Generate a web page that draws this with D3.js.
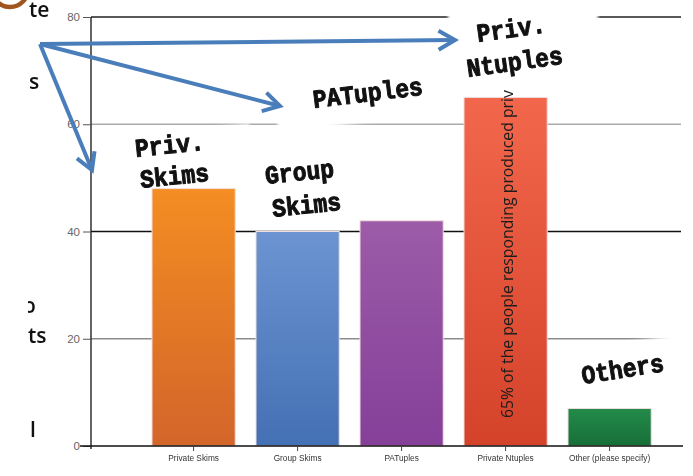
<!DOCTYPE html>
<html>
<head>
<meta charset="utf-8">
<script src="https://cdn.jsdelivr.net/npm/d3@7"></script>
<style>
  html, body { margin: 0; padding: 0; background: #fff; }
  svg { display: block; }
</style>
</head>
<body>
<svg id="chart" width="693" height="476"></svg>
<script>
// Survey: which data formats did respondents produce (percent of respondents)
const categories = ["Private Skims", "Group Skims", "PATuples", "Private Ntuples", "Other (please specify)"];
const values = [48, 40, 42, 65, 7];
const yTicks = [0, 20, 40, 60, 80];
const barTopColors = ["#f48d22", "#6b94d1", "#9c5ca8", "#f2674c", "#238b4a"];
const barBottomColors = ["#d3652a", "#4470b4", "#853f99", "#d4422a", "#176e38"];
const gridColors = { 0: "#000", 20: "#8c8c8c", 40: "#111", 60: "#aaa", 80: "#222" };

// hand-lettered callouts over the chart
const callouts = [
  { lines: ["Priv.", "Skims"], x: [136, 141], y: [157, 188], rot: -6 },
  { lines: ["Group", "Skims"], x: [266, 273], y: [184, 217], rot: -6 },
  { lines: ["PATuples"], x: [314], y: [108], rot: -7 },
  { lines: ["Priv.", "Ntuples"], x: [478, 468], y: [42, 77], rot: -8 },
  { lines: ["Others"], x: [583], y: [384], rot: -9 }
];
const barNote = "65% of the people responding produced priv";
const sideWords = [
  { t: "te", x: 29, y: 17, clip: false },
  { t: "s", x: 29, y: 89, clip: false },
  { t: "o", x: 23, y: 313, clip: true },
  { t: "ts", x: 28, y: 343, clip: false },
  { t: "l", x: 30, y: 437, clip: false }
];

const svg = d3.select("#chart");
const defs = svg.append("defs");

const y = d3.scaleLinear().domain([0, 80]).range([446, 17]);
const x = d3.scaleBand().domain(categories).range([141.6, 661.6])
  .paddingInner(0.2).paddingOuter(0.1);

const plotLeft = 91, plotRight = 681;

// gridlines
svg.append("g").selectAll("line").data(yTicks.filter(d => d > 0)).join("line")
  .attr("x1", plotLeft).attr("x2", plotRight)
  .attr("y1", d => y(d)).attr("y2", d => y(d))
  .attr("stroke", d => gridColors[d]).attr("stroke-width", 1.3);

// soft white backing panels behind the callouts
defs.append("filter").attr("id", "soft")
  .attr("x", "-10%").attr("y", "-10%").attr("width", "120%").attr("height", "120%")
  .append("feGaussianBlur").attr("stdDeviation", 1.5);
const panels = [
  { cx: 189, cy: 163, w: 128, h: 66, rot: -6 },
  { cx: 350, cy: 99, w: 150, h: 50, rot: -7 },
  { cx: 523, cy: 40, w: 150, h: 96, rot: 0 },
  { cx: 625, cy: 370.5, w: 130, h: 56, rot: -8 }
];
svg.append("g").attr("filter", "url(#soft)").selectAll("rect").data(panels).join("rect")
  .attr("x", d => -d.w / 2).attr("y", d => -d.h / 2)
  .attr("width", d => d.w).attr("height", d => d.h)
  .attr("transform", d => `translate(${d.cx},${d.cy}) rotate(${d.rot})`)
  .attr("fill", "#fff");

// bar gradients
categories.forEach((c, i) => {
  const g = defs.append("linearGradient").attr("id", "bar" + i)
    .attr("x1", 0).attr("y1", 0).attr("x2", 0).attr("y2", 1);
  g.append("stop").attr("offset", "0%").attr("stop-color", barTopColors[i]);
  g.append("stop").attr("offset", "100%").attr("stop-color", barBottomColors[i]);
});

svg.append("g").selectAll("rect").data(categories).join("rect")
  .attr("x", d => x(d))
  .attr("y", (d, i) => y(values[i]))
  .attr("width", x.bandwidth())
  .attr("height", (d, i) => y(0) - y(values[i]))
  .attr("fill", (d, i) => `url(#bar${i})`)
  .attr("stroke", "#f1dede").attr("stroke-width", 1);

// note written up the Private Ntuples bar
const noteX = x("Private Ntuples") + x.bandwidth() / 2 + 7.5;
svg.append("text")
  .attr("transform", `translate(${noteX},${y(5.2)}) rotate(-90)`)
  .attr("font-family", "'Open Sans', sans-serif").attr("font-size", 15.8)
  .attr("fill", "#1c1c1c")
  .text(barNote);

// y axis
const yAxis = d3.axisLeft(y).tickValues(yTicks).tickSize(8).tickPadding(3).tickSizeOuter(0);
const gy = svg.append("g").attr("transform", `translate(${plotLeft},0)`).call(yAxis);
gy.select(".domain").attr("d", `M0,${y(80)}V${y(0) + 3}`).attr("stroke", "#111").attr("stroke-width", 1.3);
gy.selectAll(".tick line").attr("stroke", "#555");
gy.selectAll(".tick text").attr("font-family", "'Liberation Sans', Arial, sans-serif")
  .attr("font-size", 11.5).attr("fill", "#666");

// x axis
const xAxis = d3.axisBottom(x).tickSize(5).tickPadding(4).tickSizeOuter(0);
const gx = svg.append("g").attr("transform", `translate(0,${y(0)})`).call(xAxis);
gx.select(".domain").attr("d", "M80,0H683").attr("stroke", "#111").attr("stroke-width", 1.3);
gx.selectAll(".tick line").attr("stroke", "#444");
gx.selectAll(".tick text").attr("font-family", "'Liberation Sans', Arial, sans-serif")
  .attr("font-size", 8.3).attr("fill", "#333");

// callout lettering
const cg = svg.append("g");
callouts.forEach(c => {
  c.lines.forEach((line, j) => {
    cg.append("text")
      .attr("transform", `translate(${c.x[j]},${c.y[j]}) rotate(${c.rot}) scale(1,1.12)`)
      .attr("font-family", "'Courier New', 'Liberation Mono', monospace")
      .attr("font-weight", "bold").attr("font-size", 23)
      .attr("fill", "#111").attr("stroke", "#111").attr("stroke-width", 0.9)
      .attr("stroke-linejoin", "round")
      .text(line);
  });
});

// arrows fanning out from one point
const arrowFrom = [40, 44];
const arrowTips = [[455, 40], [280, 106], [92, 170]];
const ag = svg.append("g").attr("stroke", "#4a7ebb").attr("stroke-width", 4)
  .attr("fill", "none").attr("stroke-linecap", "butt").attr("stroke-linejoin", "miter");
arrowTips.forEach(t => {
  const ang = Math.atan2(t[1] - arrowFrom[1], t[0] - arrowFrom[0]);
  const len = 19, spread = Math.PI / 6;
  const p1 = [t[0] - len * Math.cos(ang - spread), t[1] - len * Math.sin(ang - spread)];
  const p2 = [t[0] - len * Math.cos(ang + spread), t[1] - len * Math.sin(ang + spread)];
  const shaft = d3.path();
  shaft.moveTo(arrowFrom[0], arrowFrom[1]); shaft.lineTo(t[0] - 2 * Math.cos(ang), t[1] - 2 * Math.sin(ang));
  ag.append("path").attr("d", shaft.toString());
  const head = d3.path();
  head.moveTo(p1[0], p1[1]); head.lineTo(t[0], t[1]); head.lineTo(p2[0], p2[1]);
  ag.append("path").attr("d", head.toString());
});

// words running in from the left edge
defs.append("clipPath").attr("id", "sideClip")
  .append("rect").attr("x", 28).attr("y", 0).attr("width", 40).attr("height", 476);
svg.append("g").selectAll("text").data(sideWords).join("text")
  .attr("x", d => d.x).attr("y", d => d.y)
  .attr("clip-path", d => d.clip ? "url(#sideClip)" : null)
  .attr("font-family", "'Open Sans', sans-serif").attr("font-size", 21)
  .attr("font-weight", 600)
  .attr("fill", "#111")
  .text(d => d.t);

// brown ring peeking in at the corner
svg.append("circle").attr("cx", 10).attr("cy", -11).attr("r", 18)
  .attr("fill", "none").attr("stroke", "#a0561f").attr("stroke-width", 4.5);
</script>
</body>
</html>
